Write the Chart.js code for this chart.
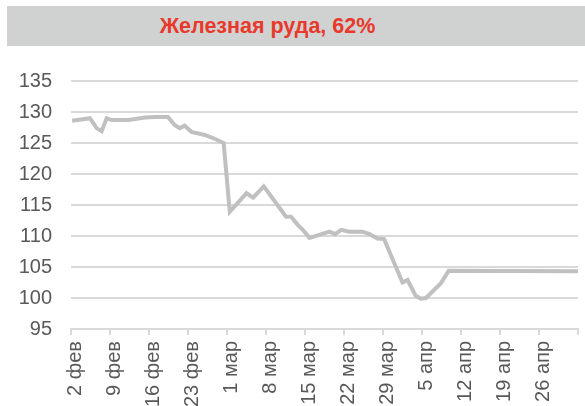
<!DOCTYPE html>
<html>
<head>
<meta charset="utf-8">
<script src="https://cdn.jsdelivr.net/npm/chart.js@4.4.1/dist/chart.umd.min.js"></script>
<style>
  html, body { margin: 0; padding: 0; background: #fff; overflow: hidden; }
  #wrap { position: relative; width: 585px; height: 406px; }
  #titleBar { position: absolute; left: 7px; top: 6px; width: 578px; height: 40px; background: #d0d2d1; }
  #titleText { position: absolute; left: 7px; top: 6px; width: 521px; height: 40px;
    text-align: center; font: bold 21.5px Arial, "Liberation Sans", sans-serif; line-height: 40px; color: #e8392b; }
  #chartBox { position: absolute; left: 0; top: 0; width: 585px; height: 406px; }
</style>
</head>
<body>
<div id="wrap">
  <div id="titleBar"></div>
  <div id="titleText">Железная руда, 62%</div>
  <div id="chartBox"><canvas id="ore"></canvas></div>
</div>
<script>
// days counted from 2 Feb 2024
var days = [0.2, 3.4, 4.6, 5.5, 6.4, 7.3, 10.3, 13.3, 15, 17.4, 18.6, 19.5, 20.4, 21.6, 24, 25.5, 27.4,
    28.5, 31.5, 32.7, 34.6, 38.6, 39.5, 40.7, 41.6, 42.8, 46.4, 47.4, 48.5, 49.9, 52.3, 53.6, 55, 56.2,
    59.5, 60.4, 61.9, 62.8, 63.7, 66.4, 67.8, 91];
var prices = [128.6, 129.0, 127.4, 126.9, 129.0, 128.7, 128.7, 129.1, 129.2, 129.2, 127.9, 127.4, 127.8, 126.8, 126.3, 125.8, 125.0,
    113.9, 116.9, 116.2, 118.0, 113.1, 113.1, 111.8, 111.0, 109.7, 110.7, 110.3, 111.0, 110.7, 110.7, 110.3, 109.6, 109.5,
    102.5, 102.9, 100.3, 99.9, 100.0, 102.4, 104.4, 104.3];
var tickLabels = ['2 фев', '9 фев', '16 фев', '23 фев', '1 мар', '8 мар', '15 мар', '22 мар',
    '29 мар', '5 апр', '12 апр', '19 апр', '26 апр', ''];

var points = days.map(function (d, i) { return { x: d, y: prices[i] }; });
var axisFont = { family: 'Arial, "Liberation Sans", sans-serif', size: 20 };

var oreChart = new Chart(document.getElementById('ore'), {
    type: 'line',
    data: {
        datasets: [{
            data: points,
            borderColor: '#c0c0c0',
            borderWidth: 4,
            pointRadius: 0,
            tension: 0,
            fill: false
        }]
    },
    options: {
        responsive: true,
        maintainAspectRatio: false,
        animation: false,
        layout: { padding: { left: 0, right: 7, top: 81, bottom: 0 } },
        plugins: { legend: { display: false }, tooltip: { enabled: false } },
        scales: {
            x: {
                type: 'linear',
                min: 0,
                max: 91,
                afterBuildTicks: function (axis) {
                    axis.ticks = tickLabels.map(function (t, i) { return { value: i * 7 }; });
                },
                afterFit: function (axis) {
                    // labels run off the bottom of the picture, as in the original
                    axis.height = 77;
                    axis.paddingLeft = 0;
                    axis.paddingRight = 0;
                },
                ticks: {
                    autoSkip: false,
                    maxRotation: 90,
                    minRotation: 90,
                    padding: 6,
                    labelOffset: 4,
                    color: '#595959',
                    font: axisFont,
                    callback: function (v, i) { return tickLabels[i]; }
                },
                grid: { drawOnChartArea: false, drawTicks: true, tickLength: 6, color: '#d9d9d9', lineWidth: 2 },
                border: { display: true, color: '#d9d9d9', width: 2 }
            },
            y: {
                min: 95,
                max: 135,
                afterFit: function (axis) { axis.width = 71; axis.paddingTop = 0; axis.paddingBottom = 0; },
                ticks: { stepSize: 5, padding: 19, color: '#595959', font: axisFont },
                grid: { drawTicks: false, color: '#d9d9d9', lineWidth: 2 },
                border: { display: false }
            }
        }
    }
});
</script>
</body>
</html>
